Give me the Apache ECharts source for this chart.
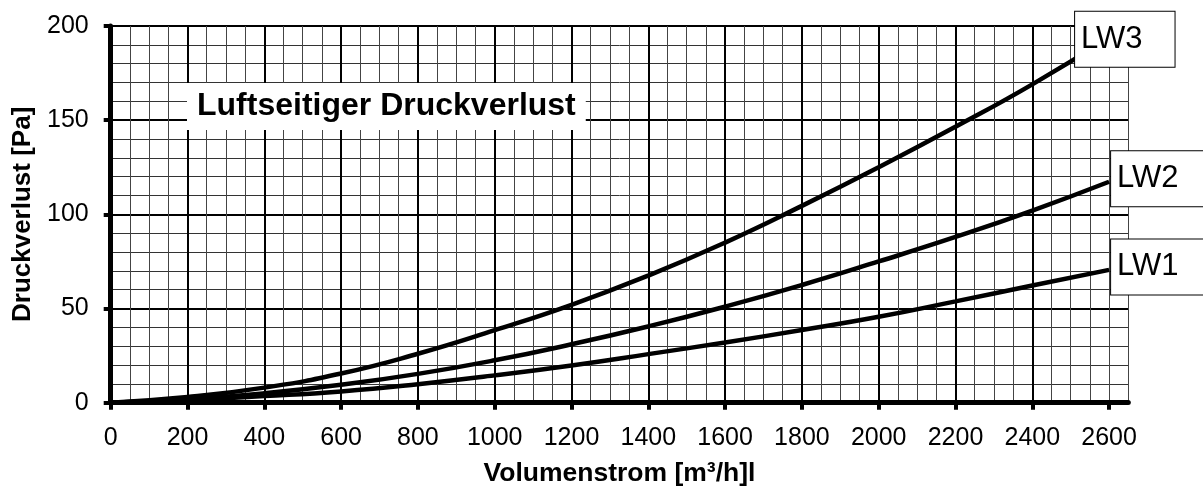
<!DOCTYPE html>
<html>
<head>
<meta charset="utf-8">
<script src="https://cdn.jsdelivr.net/npm/echarts@6/dist/echarts.min.js"></script>
<style>
html,body{margin:0;padding:0;background:#fff;}
#c{width:1203px;height:486px;}
</style>
</head>
<body>
<div id="c"></div>
<script>
// Volumenstrom [m³/h]
const flow = [0, 200, 400, 600, 800, 1000, 1200, 1400, 1600, 1800, 2000, 2200, 2400, 2600];
// Druckverlust [Pa]
const lw1 = [0, 1.5, 3.5, 6, 9.8, 14.5, 19.8, 25.8, 32, 38.6, 45.6, 53.8, 62.2, 70.5];
const lw2 = [0, 1.8, 5, 9.5, 15.3, 22.5, 31, 40.5, 51, 62.5, 75, 88, 102, 117.3];
const lw3 = [0, 3, 8, 15.5, 26, 38.5, 52, 67.5, 85, 104.5, 125, 146.5, 169, 194];
const seriesNames = ['LW1', 'LW2', 'LW3'];
const xTicks = [0, 200, 400, 600, 800, 1000, 1200, 1400, 1600, 1800, 2000, 2200, 2400, 2600];
const xMax = 2650;
const yMax = 200;
const titleText = 'Luftseitiger Druckverlust';
const xName = 'Volumenstrom [m³/h]l';
const yName = 'Druckverlust [Pa]';

const FONT = '"Liberation Sans", Arial, sans-serif';
const chart = echarts.init(document.getElementById('c'), null, {renderer: 'canvas'});

function mk(name, vals, offset) {
  return {
    name: name,
    type: 'line',
    xAxisIndex: 1,
    smooth: true,
    showSymbol: false,
    symbol: 'none',
    lineStyle: {color: '#000', width: 4.5},
    data: flow.map((x, i) => [x, vals[i]]),
    endLabel: {
      show: true,
      formatter: '{a}',
      fontFamily: FONT,
      fontSize: 31,
      color: '#000',
      backgroundColor: '#fff',
      borderColor: '#000',
      borderWidth: 1,
      padding: [8, 32, 16, 6],
      distance: 2,
      offset: offset
    },
    z: 3
  };
}

chart.setOption({
  animation: false,
  backgroundColor: '#fff',
  title: {
    text: titleText,
    left: 187,
    top: 83,
    backgroundColor: '#fff',
    padding: [7, 10, 8, 10],
    textStyle: {fontFamily: FONT, fontSize: 32, fontWeight: 'bold', color: '#000'},
    z: 10
  },
  grid: {left: 110.7, right: 74.7, top: 26, bottom: 83.3, containLabel: false, outerBoundsMode: 'none'},
  xAxis: [
    {
      type: 'value', min: 0, max: xMax, interval: 50, position: 'bottom',
      axisLine: {show: false}, axisTick: {show: false}, axisLabel: {show: false},
      splitLine: {show: true, lineStyle: {color: '#444', width: 1}}
    },
    {
      type: 'value', min: 0, max: xMax, interval: 200, position: 'bottom',
      name: xName, nameLocation: 'middle', nameGap: 57,
      nameTextStyle: {fontFamily: FONT, fontSize: 26.5, fontWeight: 'bold', color: '#000'},
      axisLine: {show: true, onZero: false, lineStyle: {color: '#000', width: 5}},
      axisTick: {show: true, length: 7, customValues: xTicks, lineStyle: {color: '#000', width: 4}},
      axisLabel: {fontFamily: FONT, fontSize: 25, color: '#000', margin: 23, customValues: xTicks,
                  formatter: v => String(v)},
      splitLine: {show: true, showMaxLine: false, lineStyle: {color: '#000', width: 2}}
    }
  ],
  yAxis: {
    type: 'value', min: 0, max: yMax, interval: 50,
    name: yName, nameLocation: 'middle', nameGap: 74,
    nameTextStyle: {fontFamily: FONT, fontSize: 26, fontWeight: 'bold', color: '#000'},
    axisLine: {show: true, lineStyle: {color: '#000', width: 5}},
    axisTick: {show: true, length: 7, lineStyle: {color: '#000', width: 4}},
    axisLabel: {fontFamily: FONT, fontSize: 25, color: '#000', margin: 22, formatter: v => String(v)},
    splitLine: {show: true, lineStyle: {color: '#000', width: 2}},
    minorTick: {show: false, splitNumber: 5},
    minorSplitLine: {show: true, lineStyle: {color: '#333', width: 1}}
  },
  series: [
    mk(seriesNames[0], lw1, [0, -3]),
    mk(seriesNames[1], lw2, [0, -3]),
    mk(seriesNames[2], lw3, [-36, 2])
  ]
});
</script>
</body>
</html>
